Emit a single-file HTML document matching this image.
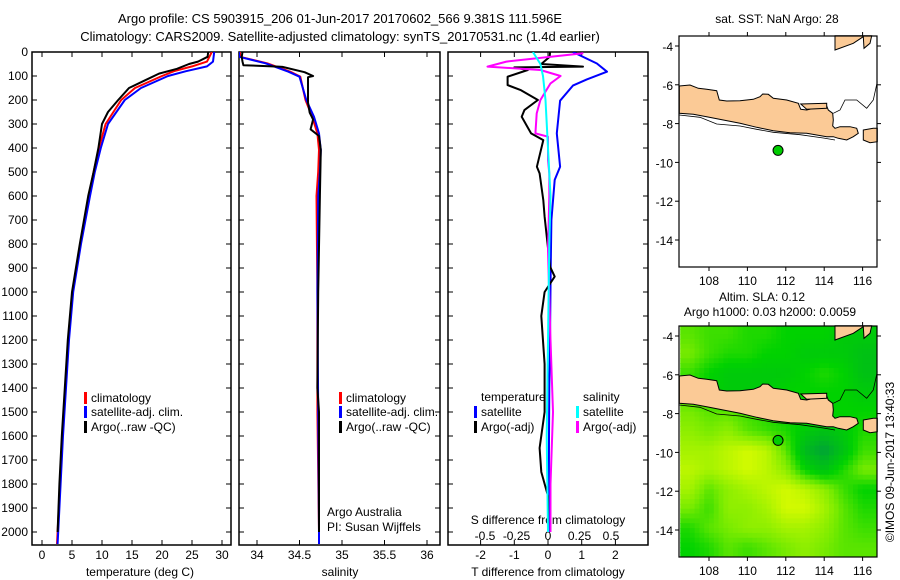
<!DOCTYPE html>
<html><head><meta charset="utf-8"><style>
body{margin:0;background:#fff;}
svg{display:block;font-family:"Liberation Sans",sans-serif;}
text{font-size:12px;fill:#000;}
</style></head><body>
<svg id="s" width="900" height="580" viewBox="0 0 900 580">
<rect width="900" height="580" fill="#fff"/>
<text x="340" y="23" text-anchor="middle" style="font-size:13px">Argo profile: CS 5903915_206 01-Jun-2017 20170602_566 9.381S 111.596E</text>
<text x="340" y="41" text-anchor="middle" style="font-size:13px">Climatology: CARS2009. Satellite-adjusted climatology: synTS_20170531.nc (1.4d earlier)</text>
<g id="g"></g>
</svg>
<script>
// ---- data ----
const depthT = [0,20,40,50,70,90,120,150,200,250,300,400,500,600,800,1000,1200,1400,1600,1800,2000];
const tempArgo = [27.7,27.6,26,24.5,22.5,19.5,17,14.5,12.7,11,10,9.4,8.6,7.7,6.3,5.0,4.3,3.8,3.3,2.9,2.6];
const depthC = [0,40,60,80,100,150,200,300,400,500,600,800,1000,1200,1400,1600,1800,2000,2050];
const tempClim = [28.3,27.5,25,22,20,15.5,13.2,10.6,9.5,8.6,7.8,6.4,5.1,4.4,3.9,3.4,3.0,2.6,2.5];
const tempSat = [28.7,28.5,27.5,24,21,16.5,13.8,11,9.8,8.8,8.0,6.5,5.2,4.5,4.0,3.5,3.1,2.7,2.6];
const depthS = [0,20,40,55,61,62,84,100,105,128,211,253,281,322,350,408,600,1000,1400,1500,1600,2000];
const salArgo = [33.83,33.82,33.83,33.84,34.25,34.3,34.56,34.66,34.6,34.6,34.6,34.62,34.66,34.63,34.73,34.75,34.74,34.72,34.71,34.73,34.73,34.73];
const depthSC = [0,20,47,82,103,200,270,339,408,500,600,1000,1500,2000,2050];
const salClim = [33.8,33.8,34.12,34.39,34.51,34.57,34.65,34.71,34.73,34.72,34.7,34.71,34.71,34.73,34.73];
const salSat = [33.79,33.79,34.1,34.37,34.5,34.58,34.67,34.73,34.75,34.74,34.72,34.71,34.72,34.73,34.73];
const depthD = [0,48,82,114,140,203,339,478,533,700,900,1200,1400,1600,2000];
const dTsat = [0.74,1.45,1.75,1.15,0.74,0.36,0.26,0.36,0.2,0.1,0.08,0.06,0.04,0.03,0.02];
const depthDA = [0,20,50,61,64,75,103,138,159,200,242,270,339,367,478,506,617,686,894,936,1000,1100,1300,1500,1650,1750,1850,2000];
const dTargo = [0.06,0.05,-0.2,1.04,-1.0,-0.6,-1.2,-1.2,-0.8,-0.3,-0.7,-0.78,-0.5,-0.14,-0.33,-0.25,-0.14,-0.1,0.06,0.2,-0.1,-0.2,-0.1,-0.1,-0.25,-0.2,0,0];
const depthSD = [5,40,61,75,100,131,200,256,339,353,450,506,600,825,1200,1500,1800,2000];
const dSargo = [0.28,-0.33,-0.48,-0.06,0.1,0.02,-0.06,-0.09,-0.1,0,0,0.01,0.01,0,0.02,0.04,0.02,0.02];
const depthSS = [0,50,100,200,400,600,800,1200,1600,2000];
const dSsat = [-0.12,-0.06,-0.04,-0.02,0,0.02,0.01,0,-0.01,0];
const depthTicks = [0,100,200,300,400,500,600,700,800,900,1000,1100,1200,1300,1400,1500,1600,1700,1800,1900,2000];
const tempTicks = [0,5,10,15,20,25,30];
const salTicks = [34,34.5,35,35.5,36];
const tdTicks = [-2,-1,0,1,2];
const sdTicks = [-0.5,-0.25,0,0.25,0.5];
const lonTicks = [108,110,112,114,116];
const latTicks = [-4,-6,-8,-10,-12,-14];
const argoLon = [111.596];
const argoLat = [-9.381];
// SLA grid rows (centres lat -3.9 downward, 1 deg), cols centres lon 107.0.. (1 deg)
const slaGrid = [
[0.06,0.05,0.05,0.04,0.04,0.03,0.03,0.03,0.02,0.02],
[0.07,0.05,0.04,0.04,0.03,0.03,0.02,0.02,0.02,0.01],
[0.05,0.03,0.02,0.02,0.02,0.02,0.03,0.04,0.03,0.01],
[0.05,0.03,0.02,0.02,0.02,0.03,0.03,0.03,0.03,0.02],
[0.07,0.06,0.06,0.05,0.04,0.03,0.04,0.03,0.03,0.03],
[0.08,0.07,0.08,0.06,0.05,0.04,0.02,0.01,0.02,0.04],
[0.09,0.09,0.10,0.11,0.10,0.06,0.00,-0.02,0.01,0.05],
[0.10,0.09,0.10,0.11,0.10,0.08,0.03,0.01,0.04,0.07],
[0.09,0.06,0.08,0.09,0.10,0.11,0.10,0.08,0.05,0.03],
[0.07,0.05,0.08,0.08,0.09,0.11,0.11,0.09,0.06,0.04],
[0.04,0.06,0.07,0.08,0.08,0.09,0.09,0.08,0.06,0.05],
[0.03,0.04,0.06,0.05,0.06,0.07,0.08,0.07,0.06,0.06]];

// ---- helpers ----
const NS='http://www.w3.org/2000/svg';
const G=document.getElementById('g');
function mk(tag,attrs,parent){const e=document.createElementNS(NS,tag);for(const k in attrs)e.setAttribute(k,attrs[k]);(parent||G).appendChild(e);return e;}
function txt(x,y,s,anchor,parent){const t=mk('text',{x:x,y:y,'text-anchor':anchor||'start'},parent);t.textContent=s;return t;}
const yD=d=>52+d*0.24;
const xT=t=>42+t*6;
const xS=s=>257+(s-34)*85;
const xTD=v=>548+v*33.7;
const xSD=v=>548+v*126;

function panel(x0,x1,name){
  const r=mk('rect',{x:x0,y:52,width:x1-x0,height:493,fill:'none',stroke:'#000','stroke-width':1.5});
  
  
  for(const d of depthTicks){mk('line',{x1:x0,x2:x0+5,y1:yD(d),y2:yD(d),stroke:'#000'});mk('line',{x1:x1,x2:x1-5,y1:yD(d),y2:yD(d),stroke:'#000'});}
}
function xticks(arr,fx,x0,x1,labelY,fmt){
  for(const v of arr){const x=fx(v);mk('line',{x1:x,x2:x,y1:52,y2:57,stroke:'#000'});mk('line',{x1:x,x2:x,y1:545,y2:540,stroke:'#000'});
    if(labelY){const t=txt(x,labelY,fmt?fmt(v):String(v),'middle');}}
}
function line(xs,ds,fx,color,w,name,clip){
  const p=xs.map((v,i)=>fx(v).toFixed(1)+','+yD(ds[i]).toFixed(1)).join(' ');
  const e=mk('polyline',{points:p,fill:'none',stroke:color,'stroke-width':w,'stroke-linejoin':'round','clip-path':'url(#'+clip+')'});
  
  
}
const defs=mk('defs',{});
[['c1',32,231],['c2',239,440],['c3',448,648]].forEach(c=>{const cp=mk('clipPath',{id:c[0]},defs);mk('rect',{x:c[1],y:52,width:c[2]-c[1],height:493},cp);});

// panel 1
panel(32,231,'temperature-panel');
for(const d of depthTicks){const t=txt(28,yD(d)+4,String(d),'end');}
xticks(tempTicks,xT,32,231,559);
txt(140,576,'temperature (deg C)','middle');
line(tempClim,depthC,xT,'#f00',2,'temp-climatology-line','c1');
line(tempSat,depthC,xT,'#00f',2,'temp-satellite-line','c1');
line(tempArgo,depthT,xT,'#000',2,'temp-argo-line','c1');
// panel 2
panel(239,440,'salinity-panel');
xticks(salTicks,xS,239,440,559);
txt(340,576,'salinity','middle');
line(salClim,depthSC,xS,'#f00',2,'sal-climatology-line','c2');
line(salSat,depthSC,xS,'#00f',2,'sal-satellite-line','c2');
line(salArgo,depthS,xS,'#000',2,'sal-argo-line','c2');
// panel 3
panel(448,648,'difference-panel');
xticks(tdTicks,xTD,448,648,559);
for(const v of sdTicks){const t=txt(xSD(v),540,String(v),'middle');}
txt(548,576,'T difference from climatology','middle');
txt(548,524,'S difference from climatology','middle');
line(dTsat,depthD,xTD,'#00f',2,'tdiff-satellite-line','c3');
line(dTargo,depthDA,xTD,'#000',2,'tdiff-argo-line','c3');
line(dSargo,depthSD,xSD,'#f0f',2,'sdiff-argo-line','c3');
line(dSsat,depthSS,xSD,'#0ff',2,'sdiff-satellite-line','c3');

// legends
function leg(x,y,color,label,name){mk('rect',{x:x,y:y-10,width:3,height:12,fill:color});const t=txt(x+7,y,label);}
leg(84,402,'#f00','climatology','legend-climatology');
leg(84,416,'#00f','satellite-adj. clim.','legend-satellite-adj');
leg(84,431,'#000','Argo(..raw -QC)','legend-argo');
leg(339,402,'#f00','climatology','legend-climatology-2');
leg(339,416,'#00f','satellite-adj. clim.','legend-satellite-adj-2');
leg(339,431,'#000','Argo(..raw -QC)','legend-argo-2');
txt(481,401,'temperature');
txt(583,401,'salinity');
leg(474,416,'#00f','satellite','legend-t-satellite');
leg(474,431,'#000','Argo(-adj)','legend-t-argo');
leg(576,416,'#0ff','satellite','legend-s-satellite');
leg(576,431,'#f0f','Argo(-adj)','legend-s-argo');
txt(327,516,'Argo Australia');
txt(327,531,'PI: Susan Wijffels');

// maps
const mapL=679,mapR=877,mapW=198,mapH=231;
const lonX=lon=>709+(lon-108)*19.2;
const latY=(lat,top)=>top+10+(-4-lat)*19.4;
const javaZ=[[718,258],[750,255],[775,265],[800,268],[830,272],[838,300],[860,303],[900,302],[940,298],[960,290],[968,282],[985,283],[1000,295],[1040,300],[1075,310],[1082,328],[1100,330],[1140,320],[1160,318],[1165,330],[1178,340],[1180,360],[1178,378],[1185,385],[1200,380],[1230,380],[1250,385],[1255,400],[1240,410],[1220,420],[1195,415],[1180,410],[1160,410],[1100,400],[1050,398],[1000,392],[950,382],[900,370],[850,360],[800,350],[760,343],[718,340]];
const maduraZ=[[1082,312],[1160,310],[1160,325],[1100,328]];
const lombokZ=[[1270,390],[1300,385],[1312,385],[1312,425],[1290,428],[1270,420]];
const borneoZ=[[1185,107],[1185,150],[1240,130],[1270,110],[1272,145],[1290,130],[1295,107]];
const shelfZ=[[718,345],[780,352],[830,372],[900,378],[950,388],[1000,397],[1080,404],[1150,414],[1185,420]];
const shelf2Z=[[1180,340],[1200,330],[1215,300],[1250,300],[1280,325],[1300,300],[1312,245]];
function land(top,name){
  [javaZ,maduraZ,lombokZ,borneoZ].forEach((poly,i)=>{
    const p=poly.map(q=>(440+q[0]/3).toFixed(1)+','+(q[1]/3-36+top).toFixed(1)).join(' ');
    const e=mk('polygon',{points:p,fill:'#fbca96',stroke:'#000','stroke-width':1});
    
    
  });
  [shelfZ,shelf2Z].forEach((poly,i)=>{
    const p=poly.map(q=>(440+q[0]/3).toFixed(1)+','+(q[1]/3-36+top).toFixed(1)).join(' ');
    const e=mk('polyline',{points:p,fill:'none',stroke:'#000','stroke-width':0.8});
    
    
  });
}
function slaColor(v){
  const stops=[[-0.03,[0,150,70]],[0.0,[0,185,30]],[0.03,[0,210,0]],[0.07,[120,235,0]],[0.11,[210,250,0]]];
  if(v<=stops[0][0])return 'rgb('+stops[0][1]+')';
  for(let i=1;i<stops.length;i++){if(v<=stops[i][0]){const a=stops[i-1],b=stops[i],f=(v-a[0])/(b[0]-a[0]);return 'rgb('+a[1].map((c,k)=>Math.round(c+(b[1][k]-c)*f)).join(',')+')';}}
  return 'rgb('+stops[stops.length-1][1]+')';
}
function slaAt(lon,lat){
  const nr=slaGrid.length,nc=slaGrid[0].length;
  let fc=Math.min(Math.max(lon-107.0,0),nc-1), fr=Math.min(Math.max(-3.9-lat,0),nr-1);
  const c0=Math.floor(fc),r0=Math.floor(fr),c1=Math.min(c0+1,nc-1),r1=Math.min(r0+1,nr-1),a=fc-c0,b=fr-r0;
  return slaGrid[r0][c0]*(1-a)*(1-b)+slaGrid[r0][c1]*a*(1-b)+slaGrid[r1][c0]*(1-a)*b+slaGrid[r1][c1]*a*b;
}
function mapAxes(top,name){
  const r=mk('rect',{x:mapL,y:top,width:mapW,height:mapH,fill:'none',stroke:'#000','stroke-width':1.2});
  
  
  for(const lon of lonTicks){const x=lonX(lon);mk('line',{x1:x,x2:x,y1:top,y2:top-4,stroke:'#000'});mk('line',{x1:x,x2:x,y1:top+mapH,y2:top+mapH+4,stroke:'#000'});
    const t=txt(x,top+mapH+18,String(lon),'middle');}
  for(const lat of latTicks){const y=latY(lat,top);mk('line',{x1:mapL,x2:mapL-4,y1:y,y2:y,stroke:'#000'});mk('line',{x1:mapR,x2:mapR+4,y1:y,y2:y,stroke:'#000'});
    const t=txt(673,y+5,String(lat),'end');}
}
function dot(top,name){
  const c=mk('circle',{cx:lonX(argoLon[0]),cy:latY(argoLat[0],top),r:5,fill:'#0c0',stroke:'#000','stroke-width':1});
  
  
}
// top map
txt(777,23,'sat. SST: NaN Argo: 28','middle');
land(36,'sst-map');
dot(36,'argo-location-dot');
mapAxes(36,'sst-map');
// bottom map
const top2=326;
const cp=mk('clipPath',{id:'cm'},defs);mk('rect',{x:mapL,y:top2,width:mapW,height:mapH},cp);
const hg=mk('g',{'clip-path':'url(#cm)'});
const step=0.25;
for(let lat=-3.4;lat>-15.5;lat-=step){
  for(let lon=106.5;lon<117;lon+=step){
    const v=slaAt(lon+step/2,lat-step/2);
    const c=mk('rect',{x:lonX(lon).toFixed(1),y:latY(lat,top2).toFixed(1),width:5.3,height:5.4,fill:slaColor(v)},hg);
    
    
  }
}
land(top2,'sla-map');
dot(top2,'argo-location-dot-sla');
mapAxes(top2,'sla-map');
txt(762,301,'Altim. SLA: 0.12','middle');
txt(770,316,'Argo h1000: 0.03 h2000: 0.0059','middle');
const cr=txt(0,0,'©IMOS 09-Jun-2017 13:40:33','middle');
cr.setAttribute('transform','translate(894,462) rotate(-90)');


</script>
</body></html>
